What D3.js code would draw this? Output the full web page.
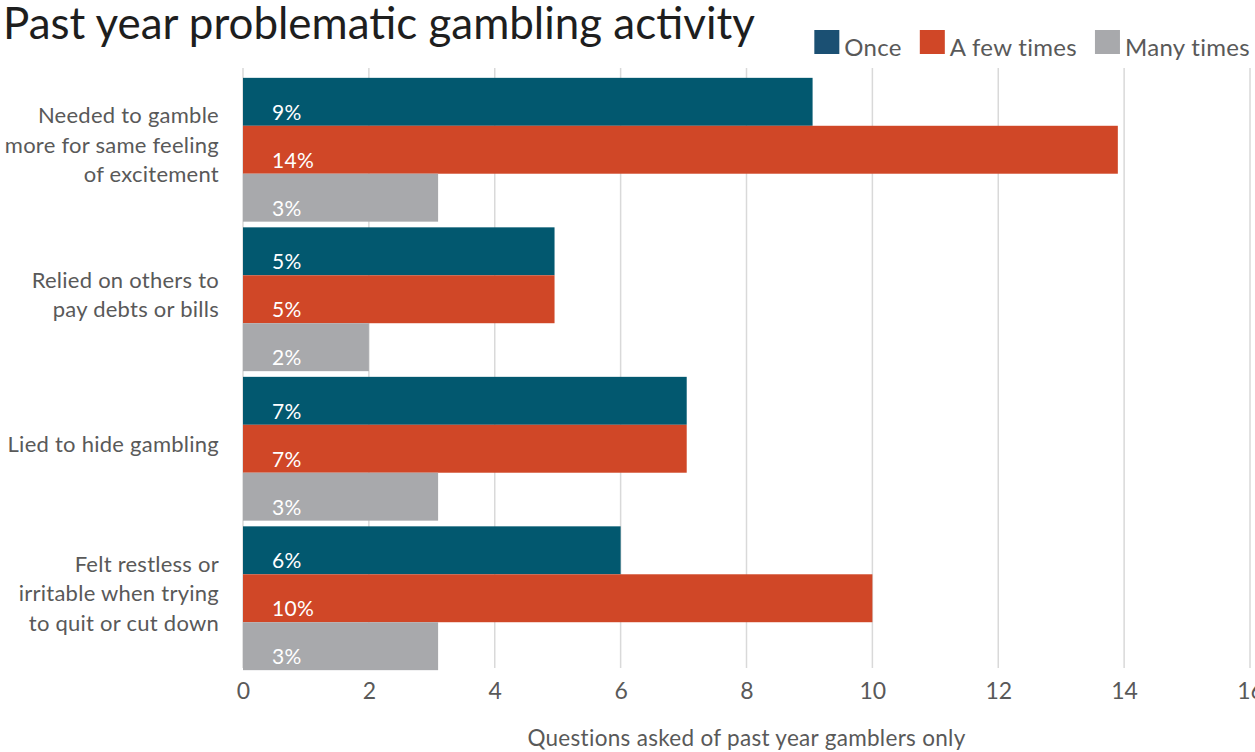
<!DOCTYPE html>
<html>
<head>
<meta charset="utf-8">
<script src="https://cdn.jsdelivr.net/npm/d3@7"></script>
<style>
  html, body { margin: 0; padding: 0; background: #ffffff; }
  svg { display: block; font-family: Lato, "Open Sans", sans-serif; }
</style>
</head>
<body>
<svg id="chart" width="1255" height="752"></svg>
<script>
// Survey items (label lines) and the share answering each frequency, in %
const categories = [
  ["Needed to gamble", "more for same feeling", "of excitement"],
  ["Relied on others to", "pay debts or bills"],
  ["Lied to hide gambling"],
  ["Felt restless or", "irritable when trying", "to quit or cut down"]
];
const seriesNames = ["Once", "A few times", "Many times"];
const onceValues = [9.05, 4.95, 7.05, 6.0];
const fewTimesValues = [13.9, 4.95, 7.05, 10.0];
const manyTimesValues = [3.1, 2.0, 3.1, 3.1];
const xTicks = [0, 2, 4, 6, 8, 10, 12, 14, 16];
const titleText = "Past year problematic gambling activity";
const axisTitle = "Questions asked of past year gamblers only";

const seriesValues = [onceValues, fewTimesValues, manyTimesValues];
const barColors = ["#02586f", "#d04727", "#a8a9ac"];
const legendColors = ["#1b5073", "#d04727", "#a8a9ac"];
const textColor = "#595959";

const svg = d3.select("#chart");
const catKeys = categories.map((c, i) => i);

const x = d3.scaleLinear().domain([0, 16]).range([243, 1250]);
const y0 = d3.scaleBand().domain(catKeys).range([75, 673])
  .paddingInner(0.038).paddingOuter(0.019);
const y1 = d3.scaleBand().domain(seriesNames).range([0, y0.bandwidth()]);

// Vertical gridlines
svg.append("g")
  .selectAll("line")
  .data(xTicks)
  .join("line")
  .attr("x1", d => x(d)).attr("x2", d => x(d))
  .attr("y1", 68).attr("y2", 668)
  .attr("stroke", "#d9d9d9")
  .attr("stroke-width", 1.5);

// X axis tick labels
const xAxis = d3.axisBottom(x).tickValues(xTicks).tickSize(0).tickPadding(0);
const gx = svg.append("g").attr("transform", "translate(0,683)").call(xAxis);
gx.select(".domain").remove();
gx.selectAll("text")
  .attr("fill", textColor)
  .attr("font-size", 23)
  .attr("font-family", "Lato, sans-serif")
  .attr("dy", "0.71em");

// Bars
const rows = [];
catKeys.forEach(ci => {
  seriesNames.forEach((s, si) => {
    rows.push({ ci, si, s, v: seriesValues[si][ci] });
  });
});

const barG = svg.append("g");
barG.selectAll("rect")
  .data(rows)
  .join("rect")
  .attr("x", x(0))
  .attr("y", d => y0(d.ci) + y1(d.s))
  .attr("width", d => x(d.v) - x(0))
  .attr("height", y1.bandwidth())
  .attr("fill", d => barColors[d.si]);

// Value labels inside bars
barG.selectAll("text")
  .data(rows)
  .join("text")
  .attr("x", x(0) + 29)
  .attr("y", d => y0(d.ci) + y1(d.s) + y1.bandwidth() / 2 + 18)
  .attr("fill", "#ffffff")
  .attr("font-size", 21)
  .attr("letter-spacing", 0.3)
  .text(d => d3.format(".0f")(d.v) + "%");

// Category labels (right aligned, multi-line)
const catG = svg.append("g");
categories.forEach((lines, ci) => {
  const cy = y0(ci) + y0.bandwidth() / 2;
  const n = lines.length;
  const t = catG.append("text")
    .attr("text-anchor", "end")
    .attr("fill", textColor)
    .attr("font-size", 22)
    .attr("letter-spacing", 0.25);
  lines.forEach((ln, i) => {
    t.append("tspan")
      .attr("x", 219)
      .attr("y", cy + 3 + (i - (n - 1) / 2) * 29.3)
      .text(ln);
  });
});

// Axis title
svg.append("text")
  .attr("x", (x(0) + x(16)) / 2)
  .attr("y", 746)
  .attr("text-anchor", "middle")
  .attr("fill", textColor)
  .attr("font-size", 22.5)
  .attr("letter-spacing", 0.3)
  .text(axisTitle);

// Title, sized to span its line
const title = svg.append("text")
  .attr("x", 3)
  .attr("y", 39)
  .attr("fill", "#1e1e1e")
  .attr("font-size", 40)
  .text(titleText);
const tw = title.node().getComputedTextLength();
title.attr("font-size", 40 * 752 / tw);

// Legend, right aligned
const legend = svg.append("g");
let lx = 1250;
const items = seriesNames.map((s, i) => ({ s, i })).reverse();
items.forEach(({ s, i }) => {
  const t = legend.append("text")
    .attr("y", 56)
    .attr("fill", textColor)
    .attr("font-size", 24)
    .attr("letter-spacing", 0.3)
    .text(s);
  const w = t.node().getComputedTextLength();
  const tx = lx - w;
  t.attr("x", tx);
  legend.append("rect")
    .attr("x", tx - 30)
    .attr("y", 30)
    .attr("width", 25)
    .attr("height", 24)
    .attr("fill", legendColors[i]);
  lx = tx - 30 - 18;
});
</script>
</body>
</html>
